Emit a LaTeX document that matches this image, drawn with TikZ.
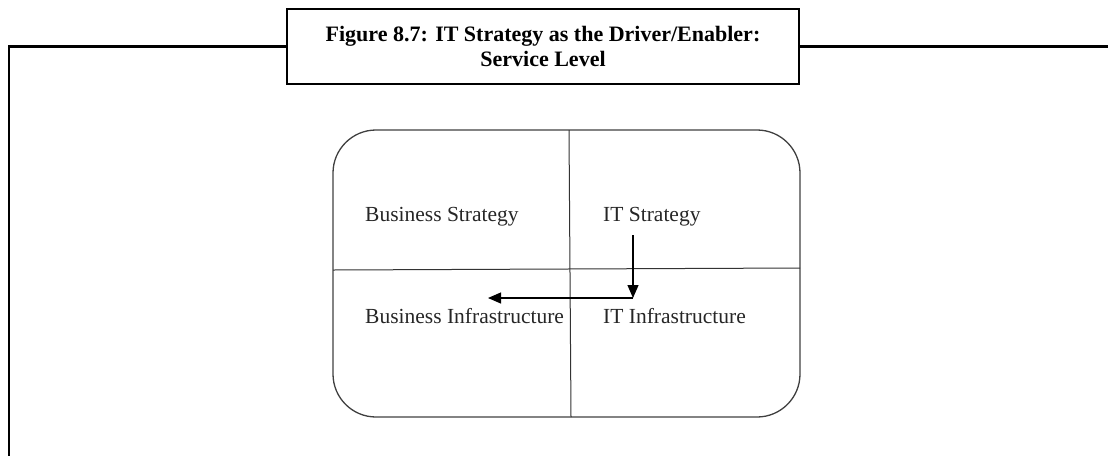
\documentclass[tikz,border=0pt]{standalone}
\usepackage{fontspec}
\setmainfont{Liberation Serif}
\usetikzlibrary{arrows.meta}

\tikzset{
  frameline/.style={line width=2.2pt},
  quadtext/.style={anchor=base west, inner sep=0pt, font=\fontsize{21.5}{24}\selectfont, text=black!85},
  flowarrow/.style={-{Triangle[length=13pt,width=11pt]}, line width=1.2pt}
}

\begin{document}
\begin{tikzpicture}[x=1pt,y=-1pt]
        \useasboundingbox (0,0) rectangle (1108,456);

        \node[draw, frameline, minimum width=512pt, minimum height=75pt, align=center,
              font=\fontsize{22}{25}\selectfont\bfseries] (title) at (543,46.5)
              {Figure 8.7: IT Strategy as the Driver/Enabler:\\Service Level};
        \draw[frameline] (title.west) -- (8.7,46.5) -- (8.7,456);
        \draw[frameline] (title.east) -- (1108,46.5);

        \draw[line width=1.3pt, black!75, rounded corners=43pt] (333,130) rectangle (800,417);
        \draw[line width=1pt, black!80] (569,130) -- (571,417);
        \draw[line width=1pt, black!80] (333,270) -- (800,268);

        \node[quadtext] (bstrat) at (365,221) {Business Strategy};
        \node[quadtext] (itstrat) at (603,221) {IT Strategy};
        \node[quadtext] (binfra) at (365,323) {Business Infrastructure};
        \node[quadtext] (itinfra) at (603,323) {IT Infrastructure};

        \coordinate (itdown) at (633,235);
        \coordinate (bend) at (633,298);
        \coordinate (bizend) at (488,298);
        \draw[flowarrow] (itdown) -- (bend);
        \draw[flowarrow] (bend) -- (bizend);

    \end{tikzpicture}
\end{document}
